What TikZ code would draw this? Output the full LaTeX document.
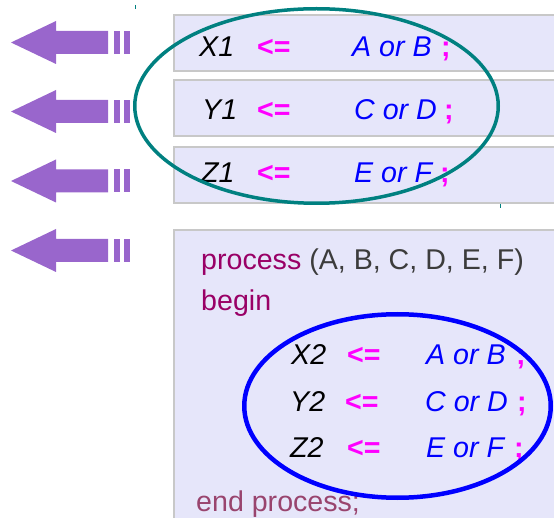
\documentclass[tikz,border=0pt]{standalone}
\usepackage{fontspec}
\setmainfont{Liberation Sans}
\definecolor{boxfill}{RGB}{230,230,250}
\definecolor{boxline}{RGB}{200,200,200}
\definecolor{arrowc}{RGB}{153,102,204}
\definecolor{tealc}{RGB}{0,128,128}
\definecolor{procc}{RGB}{153,0,102}
\definecolor{endc}{RGB}{153,68,110}
\definecolor{parc}{RGB}{60,60,60}
\definecolor{magc}{RGB}{255,0,255}
\definecolor{bluec}{RGB}{0,0,255}
\newcommand\myfs{\fontsize{28.6}{34}\selectfont}
\begin{document}
\begin{tikzpicture}[x=1pt,y=-1pt,
  txt/.style={inner sep=0pt, anchor=base west, font=\myfs},
  sig/.style={txt, font=\myfs\itshape, text=black},
  op/.style={txt, font=\myfs\bfseries, text=magc},
  val/.style={txt, font=\myfs\itshape, text=bluec},
  kw/.style={txt, text=procc},
  codebox/.style={fill=boxfill, draw=boxline, line width=1.5pt},
  bigarrow/.style={fill=arrowc, draw=none}]
\useasboundingbox (0,0) rectangle (554,518);
\clip (0,0) rectangle (554,518);
% arrows
\foreach \cy in {42.5,111.5,181,250.5}{
  \fill[arrowc] (11,\cy) -- (56,\cy-21.5) -- (56,\cy-11.5) -- (108,\cy-11.5)
     -- (108,\cy+11.5) -- (56,\cy+11.5) -- (56,\cy+21.5) -- cycle;
  \fill[arrowc] (114,\cy-11.5) rectangle (120,\cy+11.5);
  \fill[arrowc] (124,\cy-11.5) rectangle (130,\cy+11.5);
}
% boxes
\draw[codebox] (174,15) rectangle (570,71);
\draw[codebox] (174,80) rectangle (570,136);
\draw[codebox] (174,147) rectangle (570,203);
\draw[codebox] (174,230) rectangle (570,530);
% row texts, top boxes
\node[sig] (x1) at (199,56.5) {X1};
\node[op]  (x1op) at (257,56.5) {<=};
\node[val] (x1v) at (352,56.5) {A or B};
\node[op]  (x1s) at (441,56.5) {;};
\node[sig] (y1) at (202,119.5) {Y1};
\node[op]  (y1op) at (257,119.5) {<=};
\node[val] (y1v) at (354,119.5) {C or D};
\node[op]  (y1s) at (444,119.5) {;};
\node[sig] (z1) at (201,183) {Z1};
\node[op]  (z1op) at (257,183) {<=};
\node[val] (z1v) at (354,183) {E or F};
\node[op]  (z1s) at (440,183) {;};
% process box
\node[kw] (proc) at (201,270) {process \textcolor{parc}{(A, B, C, D, E, F)}};
\node[kw] (begin) at (201,311) {begin};
\node[sig] (x2) at (291,364) {X2};
\node[op]  (x2op) at (347,364) {<=};
\node[val] (x2v) at (426,364) {A or B};
\node[op]  (x2s) at (516,364) {;};
\node[sig] (y2) at (290,411.5) {Y2};
\node[op]  (y2op) at (345,411.5) {<=};
\node[val] (y2v) at (425,411.5) {C or D};
\node[op]  (y2s) at (517,411.5) {;};
\node[sig] (z2) at (290,457) {Z2};
\node[op]  (z2op) at (347,457) {<=};
\node[val] (z2v) at (426,457) {E or F};
\node[op]  (z2s) at (514,457) {;};
\node[txt, text=endc] (endp) at (196,511) {end process;};
% ellipses
\draw[tealc, line width=3.5pt] (316.5,106) ellipse [x radius=181.75, y radius=97.25];
\draw[bluec, line width=4.5pt] (397.5,406) ellipse [x radius=153.25, y radius=91.75];
% small teal ticks
\draw[tealc, line width=1pt] (135,5) -- (135,9);
\draw[tealc, line width=1pt] (500,204) -- (500,208);
\end{tikzpicture}
\end{document}
